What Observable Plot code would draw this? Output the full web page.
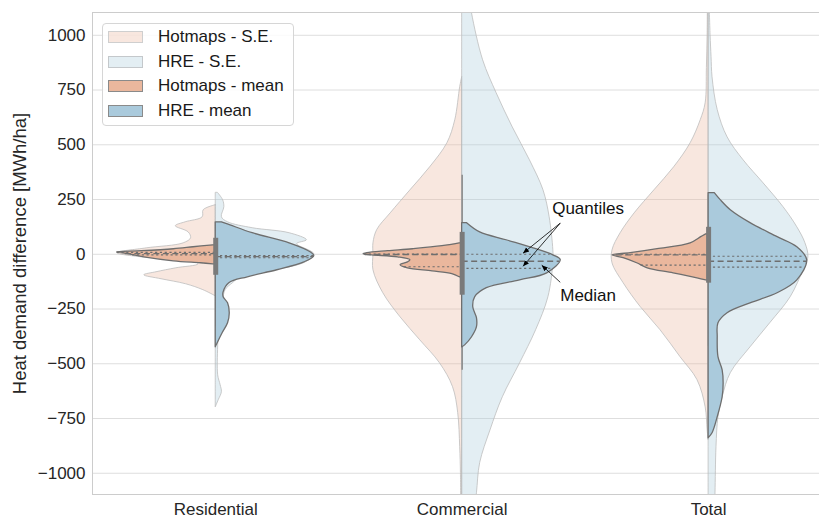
<!DOCTYPE html>
<html>
<head>
<meta charset="utf-8">
<script src="https://cdn.jsdelivr.net/npm/d3@7"></script>
<script src="https://cdn.jsdelivr.net/npm/@observablehq/plot@0.6"></script>
<style>
  body { margin: 0; background: #fff; font-family: "Liberation Sans", Arial, sans-serif; }
  #wrap { position: relative; width: 819px; height: 518px; overflow: hidden; }
  .legend { position: absolute; left: 102px; top: 23px; width: 192px; height: 103px; border: 1px solid #d6d6d6; border-radius: 4px; background: rgba(255,255,255,0.85); box-sizing: border-box; }
  .item { position: absolute; left: 5px; height: 20px; display: flex; align-items: center; font-size: 17px; color: #1a1a1a; white-space: nowrap; }
  .sw { width: 35px; height: 12px; box-sizing: border-box; margin-right: 15px; }
</style>
</head>
<body>
<div id="wrap"></div>
<script>
// ---------- data ----------
const categories = ["Residential", "Commercial", "Total"];
const yTicks = [-1000, -750, -500, -250, 0, 250, 500, 750, 1000];
const seriesNames = ["Hotmaps - S.E.", "HRE - S.E.", "Hotmaps - mean", "HRE - mean"];

// violin profiles: [value (MWh/ha), half-width (density, category units)]
const resHotmapsSE = [[224,0],[201,.049],[169,.053],[146,.122],[128,.162],[100,.11],[73,.10],[50,.13],[27,.28],[5,.40],[-14,.30],[-27,.10],[-46,.07],[-64,.16],[-82,.24],[-96,.29],[-114,.22],[-137,.12],[-164,.05],[-192,0]];
const comHotmapsSE = [[808,0],[763,.008],[612,.028],[507,.06],[397,.13],[292,.21],[187,.29],[110,.345],[50,.36],[0,.36],[-73,.36],[-178,.32],[-288,.25],[-393,.17],[-498,.09],[-607,.037],[-726,.016],[-881,.008],[-1000,.005],[-1150,.004]];
const totHotmapsSE = [[1150,.003],[1000,.004],[850,.007],[690,.012],[612,.032],[507,.073],[397,.14],[292,.22],[187,.30],[96,.357],[18,.39],[-41,.39],[-132,.345],[-242,.275],[-347,.195],[-470,.114],[-575,.045],[-699,.012],[-804,.004],[-849,0]];

const resHreSE = [[279,.01],[247,.03],[215,.035],[169,.025],[146,.05],[119,.15],[96,.30],[64,.37],[46,.33],[0,.40],[-40,.36],[-87,.16],[-105,.10],[-132,.07],[-164,.04],[-210,.03],[-300,.015],[-420,.01],[-553,.01],[-598,.02],[-630,.025],[-667,.012],[-699,0]];
const comHreSE = [[1180,.03],[1100,.04],[886,.085],[735,.14],[580,.205],[429,.275],[292,.33],[169,.355],[18,.37],[-41,.37],[-196,.35],[-347,.30],[-498,.235],[-653,.165],[-804,.115],[-954,.073],[-1091,.06],[-1180,.05]];
const totHreSE = [[1150,.004],[1000,.008],[900,.012],[808,.016],[658,.037],[534,.077],[429,.142],[324,.223],[215,.304],[123,.36],[50,.393],[-14,.405],[-73,.385],[-196,.333],[-315,.25],[-425,.17],[-543,.09],[-653,.057],[-744,.04],[-881,.032],[-1091,.028],[-1180,.026]];

const resHotmaps = [[41,.01],[32,.09],[23,.17],[14,.30],[9,.40],[0,.35],[-14,.29],[-32,.17],[-41,.06],[-46,.01]];
const comHotmaps = [[50,.01],[37,.08],[23,.2],[14,.3],[5,.385],[0,.40],[-5,.365],[-14,.26],[-27,.21],[-37,.22],[-50,.25],[-64,.22],[-78,.12],[-91,.04],[-105,.01]];
const totHotmaps = [[91,.01],[78,.03],[50,.073],[23,.207],[5,.316],[-5,.39],[-18,.345],[-41,.29],[-64,.247],[-87,.142],[-110,.045],[-119,.01]];

const resHre = [[146,.025],[132,.06],[96,.15],[50,.30],[9,.385],[-9,.40],[-37,.36],[-73,.25],[-105,.13],[-132,.055],[-174,.032],[-196,.032],[-224,.05],[-269,.057],[-315,.05],[-361,.028],[-406,.008],[-425,0]];
const comHre = [[142,.02],[100,.073],[64,.18],[27,.29],[-5,.37],[-27,.40],[-87,.345],[-119,.235],[-155,.10],[-196,.053],[-242,.045],[-292,.06],[-333,.06],[-379,.04],[-416,.012],[-425,0]];
const totHre = [[279,.025],[247,.049],[201,.09],[142,.17],[78,.28],[32,.36],[-27,.40],[-119,.36],[-178,.28],[-224,.17],[-269,.077],[-315,.04],[-379,.037],[-470,.04],[-530,.057],[-589,.061],[-653,.057],[-744,.037],[-817,.016],[-840,0]];

// quartile lines [q1, median, q3]
const hotmapsQuartiles = [[-3, 3, 9], [-57, -1, 1], [-50, -3, 0]];
const hreQuartiles = [[-16, -11, -6], [-64, -32, 0], [-59, -32, -9]];
// inner box: IQR and whiskers
const boxIQR = [[-96, 73], [-187, 100], [-132, 123]];
const boxWhiskers = [[-330, 140], [-530, 361], [-420, 270]];

// annotations (category units, value units)
const annoText = [{label: "Quantiles", x: 1.511, y: 210}, {label: "Median", x: 1.511, y: -187}];
const annoArrows = [
  {x1: 1.398, y1: 142, x2: 1.247, y2: 5},
  {x1: 1.398, y1: 142, x2: 1.247, y2: -55},
  {x1: 1.398, y1: -128, x2: 1.323, y2: -50}
];

// ---------- build ----------
const colors = {hot: "#eab79d", hre: "#aacadc"};
const seAlpha = 0.33;

function toRows(profiles) {
  return profiles.flatMap((p, i) => p.map(([v, w]) => ({i, v, w})));
}
function widthAt(profile, v) {
  for (let k = 0; k < profile.length - 1; k++) {
    const [a, wa] = profile[k], [b, wb] = profile[k + 1];
    if ((v <= a && v >= b)) { const t = (a - v) / (a - b || 1); return wa + t * (wb - wa); }
  }
  return 0;
}
const hotSERows = toRows([resHotmapsSE, comHotmapsSE, totHotmapsSE]);
const hreSERows = toRows([resHreSE, comHreSE, totHreSE]);
const hotProfiles = [resHotmaps, comHotmaps, totHotmaps];
const hreProfiles = [resHre, comHre, totHre];
const hotRows = toRows(hotProfiles);
const hreRows = toRows(hreProfiles);

const qLines = [];
hotmapsQuartiles.forEach((q, i) => q.forEach((v, k) => qLines.push({i, v, x1: i - widthAt(hotProfiles[i], v), x2: i, med: k === 1})));
hreQuartiles.forEach((q, i) => q.forEach((v, k) => qLines.push({i, v, x1: i, x2: i + widthAt(hreProfiles[i], v), med: k === 1})));

const boxRows = boxIQR.map(([a, b], i) => ({i, lo: a, hi: b}));
const whiskerRows = boxWhiskers.map(([a, b], i) => ({i, lo: a, hi: b}));

const areaOpts = {curve: "catmull-rom", clip: true};
const fmtY = (d) => (d < 0 ? "\u2212" + Math.abs(d) : String(d));

function filledArrow(color, context) {
  const ns = "http://www.w3.org/2000/svg";
  const m = context.document.createElementNS(ns, "marker");
  m.setAttribute("viewBox", "-6 -4 8 8");
  m.setAttribute("markerWidth", 8);
  m.setAttribute("markerHeight", 8);
  m.setAttribute("markerUnits", "userSpaceOnUse");
  m.setAttribute("orient", "auto");
  m.setAttribute("refX", 0);
  m.setAttribute("refY", 0);
  const p = context.document.createElementNS(ns, "path");
  p.setAttribute("d", "M-6,-2.6L0,0L-6,2.6Z");
  p.setAttribute("fill", color);
  p.setAttribute("stroke", "none");
  m.appendChild(p);
  return m;
}

let arrowMark;
try {
  arrowMark = Plot.link(annoArrows, {x1: "x1", y1: "y1", x2: "x2", y2: "y2", stroke: "#000", strokeWidth: 0.8, markerEnd: filledArrow});
} catch (e) {
  arrowMark = Plot.arrow(annoArrows, {x1: "x1", y1: "y1", x2: "x2", y2: "y2", stroke: "#000", strokeWidth: 0.9, headLength: 7, bend: 0});
}

const chart = Plot.plot({
  width: 819,
  height: 518,
  marginLeft: 92,
  marginRight: 0,
  marginTop: 12,
  marginBottom: 24,
  style: {fontFamily: "'Liberation Sans', Arial, sans-serif", fontSize: "17px", color: "#262626", background: "#fff"},
  x: {domain: [-0.5, 2.45], label: null},
  y: {domain: [-1097, 1104], label: null},
  marks: [
    Plot.gridY(yTicks, {stroke: "#dedede", strokeOpacity: 1, strokeWidth: 1}),
    Plot.axisX({ticks: [0, 1, 2], tickFormat: (d) => categories[d], tickSize: 0, tickPadding: 8, fontSize: 17, label: null}),
    Plot.axisY({ticks: yTicks, tickFormat: fmtY, tickSize: 0, tickPadding: 7, fontSize: 17, label: null}),
    // S.E. violins
    Plot.areaX(hotSERows, {...areaOpts, y: "v", x1: d => d.i - d.w, x2: d => d.i, z: "i", fill: colors.hot, fillOpacity: seAlpha, stroke: "#b9b9b9", strokeOpacity: 0.75, strokeWidth: 1}),
    Plot.areaX(hreSERows, {...areaOpts, y: "v", x1: d => d.i, x2: d => d.i + d.w, z: "i", fill: colors.hre, fillOpacity: seAlpha, stroke: "#b9b9b9", strokeOpacity: 0.75, strokeWidth: 1}),
    // whiskers
    Plot.ruleX(whiskerRows, {x: "i", y1: "lo", y2: "hi", stroke: "#8a8a8a", strokeWidth: 1.5}),
    // mean violins
    Plot.areaX(hotRows, {...areaOpts, y: "v", x1: d => d.i - d.w, x2: d => d.i, z: "i", fill: colors.hot, stroke: "#6e6e6e", strokeWidth: 1.3}),
    Plot.areaX(hreRows, {...areaOpts, y: "v", x1: d => d.i, x2: d => d.i + d.w, z: "i", fill: colors.hre, stroke: "#6e6e6e", strokeWidth: 1.3}),
    // quartile & median lines
    Plot.ruleY(qLines.filter(d => !d.med), {y: "v", x1: "x1", x2: "x2", stroke: "#6e6e6e", strokeWidth: 1.2, strokeDasharray: "2.2,2.6"}),
    Plot.ruleY(qLines.filter(d => d.med), {y: "v", x1: "x1", x2: "x2", stroke: "#6e6e6e", strokeWidth: 1.3, strokeDasharray: "6,3.5"}),
    // inner box
    Plot.ruleX(boxRows, {x: "i", y1: "lo", y2: "hi", stroke: "#7a7a7a", strokeWidth: 5}),
    Plot.frame({stroke: "#cccccc", strokeWidth: 1}),
    // annotations
    arrowMark,
    Plot.text(annoText, {x: "x", y: "y", text: "label", fontSize: 17, fill: "#111", textAnchor: "middle"}),
    // y axis title
    Plot.text(["Heat demand difference [MWh/ha]"], {frameAnchor: "left", dx: -72, rotate: -90, fontSize: 18.5, fill: "#262626", textAnchor: "middle"})
  ]
});

const wrap = document.getElementById("wrap");
wrap.appendChild(chart);

// legend
const legend = document.createElement("div");
legend.className = "legend";
const legendFills = ["rgba(234,183,157,0.33)", "rgba(170,202,220,0.33)", colors.hot, colors.hre];
const legendStrokes = ["#cfcfcf", "#c4c8cb", "#8a8a8a", "#8a8a8a"];
seriesNames.forEach((name, k) => {
  const it = document.createElement("div");
  it.className = "item";
  it.style.top = (3 + k * 24.5) + "px";
  const sw = document.createElement("span");
  sw.className = "sw";
  sw.style.background = legendFills[k];
  sw.style.border = "1px solid " + legendStrokes[k];
  it.appendChild(sw);
  const tx = document.createElement("span");
  tx.textContent = name;
  it.appendChild(tx);
  legend.appendChild(it);
});
wrap.appendChild(legend);
</script>
</body>
</html>
